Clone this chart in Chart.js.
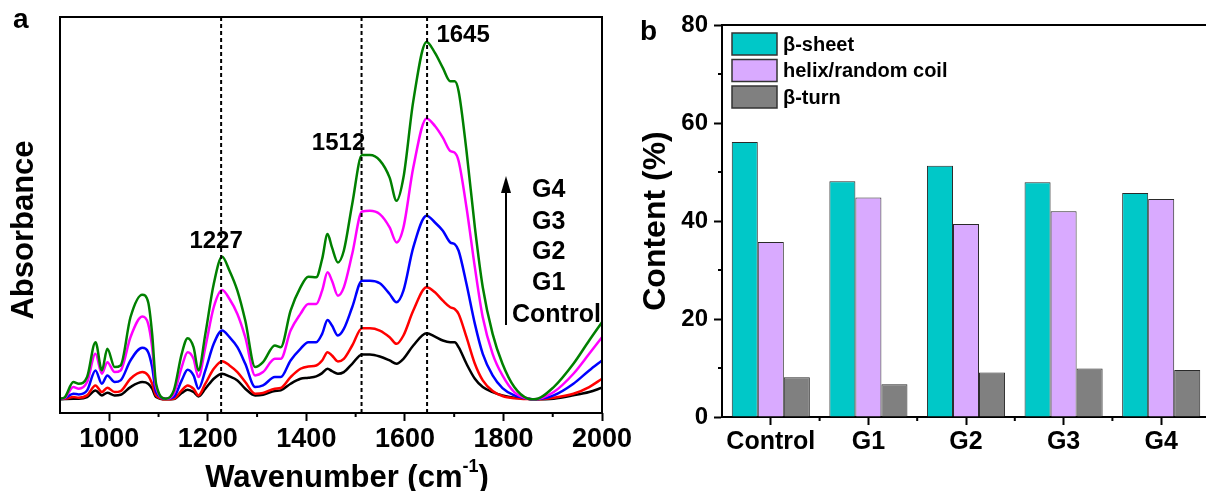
<!DOCTYPE html>
<html>
<head>
<meta charset="utf-8">
<script src="https://cdn.jsdelivr.net/npm/chart.js@4.4.1/dist/chart.umd.min.js"></script>
<style>
  html, body { margin: 0; padding: 0; background: #fff; overflow: hidden; width: 1206px; height: 491px; }
  #wrapA { position: absolute; left: 0; top: 0; width: 640px; height: 491px; }
  #wrapB { position: absolute; left: 600px; top: 0; width: 610px; height: 491px; }
</style>
</head>
<body>
<div id="wrapA"><canvas id="ftir"></canvas></div>
<div id="wrapB"><canvas id="content"></canvas></div>
<script>
// ---- panel a : FTIR spectra (absorbance, arbitrary units) ----
const wavenumbers = [900, 910, 927, 938, 955, 972, 985, 996, 1011, 1023, 1043, 1067, 1079, 1087, 1095,
  1115, 1131, 1147, 1159, 1171, 1181, 1195, 1212, 1229, 1244, 1260, 1276, 1296, 1312, 1336,
  1348, 1368, 1388, 1404, 1420, 1432, 1443, 1452, 1464, 1476, 1493, 1513, 1529, 1549, 1569,
  1583, 1597, 1617, 1644, 1661, 1677, 1692, 1701, 1709, 1725, 1742, 1758, 1778, 1798, 1822,
  1850, 1862, 1902, 1942, 1974, 2000];

const absG4 = [0.043, 0.048, 0.093, 0.088, 0.108, 0.213, 0.128, 0.193, 0.138, 0.143, 0.288, 0.356, 0.333, 0.238, 0.088,
  0.043, 0.068, 0.178, 0.225, 0.198, 0.128, 0.238, 0.388, 0.470, 0.428, 0.368, 0.278, 0.138, 0.153, 0.203,
  0.198, 0.308, 0.378, 0.410, 0.408, 0.463, 0.538, 0.498, 0.453, 0.488, 0.628, 0.776, 0.776, 0.760, 0.708,
  0.638, 0.708, 0.938, 1.116, 1.083, 1.038, 0.998, 0.998, 0.968, 0.788, 0.558, 0.378, 0.238, 0.148, 0.078,
  0.043, 0.041, 0.078, 0.148, 0.218, 0.273];

const absG3 = [0.043, 0.046, 0.078, 0.073, 0.093, 0.178, 0.118, 0.153, 0.123, 0.128, 0.228, 0.290, 0.268, 0.198, 0.078,
  0.043, 0.058, 0.138, 0.183, 0.163, 0.108, 0.198, 0.318, 0.370, 0.343, 0.298, 0.228, 0.113, 0.123, 0.163,
  0.163, 0.248, 0.298, 0.328, 0.328, 0.368, 0.423, 0.398, 0.353, 0.378, 0.478, 0.606, 0.608, 0.598, 0.558,
  0.513, 0.558, 0.738, 0.886, 0.863, 0.828, 0.788, 0.783, 0.758, 0.618, 0.438, 0.288, 0.178, 0.113, 0.063,
  0.043, 0.041, 0.063, 0.118, 0.178, 0.228];

const absG2 = [0.043, 0.045, 0.058, 0.056, 0.068, 0.128, 0.088, 0.113, 0.093, 0.098, 0.158, 0.196, 0.183, 0.138, 0.063,
  0.043, 0.048, 0.098, 0.130, 0.113, 0.073, 0.128, 0.208, 0.248, 0.228, 0.198, 0.148, 0.078, 0.083, 0.108,
  0.108, 0.158, 0.193, 0.213, 0.213, 0.238, 0.280, 0.263, 0.233, 0.253, 0.318, 0.398, 0.398, 0.390, 0.358,
  0.333, 0.368, 0.498, 0.593, 0.573, 0.548, 0.513, 0.508, 0.488, 0.388, 0.268, 0.178, 0.113, 0.075, 0.053,
  0.043, 0.041, 0.053, 0.088, 0.128, 0.158];

const absG1 = [0.043, 0.043, 0.048, 0.046, 0.053, 0.083, 0.063, 0.076, 0.063, 0.066, 0.103, 0.123, 0.113, 0.088, 0.053,
  0.041, 0.043, 0.068, 0.083, 0.073, 0.053, 0.088, 0.133, 0.156, 0.143, 0.123, 0.093, 0.058, 0.060, 0.073,
  0.075, 0.108, 0.133, 0.140, 0.143, 0.158, 0.183, 0.173, 0.155, 0.163, 0.203, 0.255, 0.255, 0.248, 0.228,
  0.208, 0.233, 0.308, 0.378, 0.363, 0.338, 0.318, 0.313, 0.298, 0.228, 0.148, 0.098, 0.066, 0.051, 0.044,
  0.042, 0.041, 0.046, 0.058, 0.078, 0.103];

const absControl = [0.041, 0.042, 0.043, 0.043, 0.048, 0.068, 0.053, 0.061, 0.053, 0.055, 0.078, 0.093, 0.088, 0.073, 0.048,
  0.041, 0.042, 0.060, 0.070, 0.063, 0.050, 0.073, 0.103, 0.118, 0.110, 0.098, 0.073, 0.053, 0.055, 0.066,
  0.068, 0.088, 0.103, 0.106, 0.110, 0.120, 0.133, 0.126, 0.118, 0.123, 0.148, 0.176, 0.176, 0.170, 0.158,
  0.148, 0.163, 0.203, 0.240, 0.230, 0.218, 0.213, 0.213, 0.198, 0.148, 0.103, 0.078, 0.063, 0.053, 0.046,
  0.043, 0.041, 0.043, 0.053, 0.063, 0.076];

const xTickValues = [1000, 1200, 1400, 1600, 1800, 2000];
const xMinorTicks = [1100, 1300, 1500, 1700, 1900];
const peakMarks = [1227, 1512, 1645];

// ---- panel b : secondary structure content (%) ----
const groups = ['Control', 'G1', 'G2', 'G3', 'G4'];
const betaSheet = [56.1, 48.1, 51.3, 47.9, 45.7];
const helixCoil = [35.7, 44.8, 39.4, 42.0, 44.5];
const betaTurn = [8.1, 6.7, 9.1, 9.9, 9.6];
const yTickValues = [0, 20, 40, 60, 80];
const yMinorTicks = [10, 30, 50, 70];

const FONT = "'Liberation Sans', Arial, Helvetica, sans-serif";
Chart.defaults.font.family = FONT;
Chart.defaults.color = '#000';
Chart.defaults.animation = false;

const bold = (size) => 'bold ' + size + 'px ' + FONT;

// decorations for panel a: frame, minor ticks, peak markers, arrow, titles
const ftirDecor = {
  id: 'ftirDecor',
  afterDraw(chart) {
    const { ctx, chartArea: a, scales: { x } } = chart;
    ctx.save();
    ctx.strokeStyle = '#000';
    ctx.fillStyle = '#000';
    ctx.lineWidth = 2;
    ctx.strokeRect(a.left, a.top, a.right - a.left, a.bottom - a.top);

    ctx.beginPath();
    xMinorTicks.forEach(v => {
      const px = x.getPixelForValue(v);
      ctx.moveTo(px, a.bottom);
      ctx.lineTo(px, a.bottom + 4);
    });
    ctx.stroke();

    // dashed peak markers
    ctx.setLineDash([4, 3]);
    ctx.lineWidth = 2;
    peakMarks.forEach(v => {
      const px = x.getPixelForValue(v);
      ctx.beginPath();
      ctx.moveTo(px, a.top);
      ctx.lineTo(px, a.bottom);
      ctx.stroke();
    });
    ctx.setLineDash([]);

    ctx.font = bold(24);
    ctx.textAlign = 'center';
    ctx.textBaseline = 'middle';
    const labelPos = [[-5, 241], [-23, 143], [36, 35]];
    peakMarks.forEach((v, i) => {
      ctx.fillText(String(v), x.getPixelForValue(v) + labelPos[i][0], labelPos[i][1]);
    });

    // arrow
    ctx.beginPath();
    ctx.moveTo(506, 325);
    ctx.lineTo(506, 190);
    ctx.stroke();
    ctx.beginPath();
    ctx.moveTo(506, 176);
    ctx.lineTo(501, 193);
    ctx.lineTo(511, 193);
    ctx.closePath();
    ctx.fill();

    ctx.font = bold(25);
    ctx.textAlign = 'left';
    const gy = [315, 283, 252, 222, 190];
    groups.forEach((g, i) => {
      ctx.fillText(g, i === 0 ? 512 : 532, gy[i]);
    });

    // axis titles
    ctx.font = bold(31);
    ctx.textAlign = 'center';
    ctx.save();
    ctx.translate(24, 230);
    ctx.rotate(-Math.PI / 2);
    ctx.fillText('Absorbance', 0, 0);
    ctx.restore();

    const main = 'Wavenumber (cm';
    const sup = '-1';
    const tail = ')';
    ctx.font = bold(31);
    const w1 = ctx.measureText(main).width;
    const w3 = ctx.measureText(tail).width;
    ctx.font = bold(18);
    const w2 = ctx.measureText(sup).width;
    let sx = 347 - (w1 + w2 + w3) / 2;
    ctx.textAlign = 'left';
    ctx.textBaseline = 'alphabetic';
    ctx.font = bold(31);
    ctx.fillText(main, sx, 487);
    ctx.font = bold(18);
    ctx.fillText(sup, sx + w1, 472);
    ctx.font = bold(31);
    ctx.fillText(tail, sx + w1 + w2, 487);

    ctx.font = bold(28);
    ctx.fillText('a', 13, 28);
    ctx.restore();
  }
};

const ftirSeries = [
  { label: 'G4', values: absG4, color: '#008000' },
  { label: 'G3', values: absG3, color: '#FF00FF' },
  { label: 'G2', values: absG2, color: '#0000FF' },
  { label: 'G1', values: absG1, color: '#FF0000' },
  { label: 'Control', values: absControl, color: '#000000' }
];

new Chart(document.getElementById('ftir'), {
  type: 'line',
  data: {
    datasets: ftirSeries.map(s => ({
      label: s.label,
      data: wavenumbers.map((w, i) => ({ x: w, y: s.values[i] })),
      borderColor: s.color,
      borderWidth: 2.5,
      pointRadius: 0,
      fill: false,
      cubicInterpolationMode: 'monotone'
    }))
  },
  options: {
    responsive: true,
    maintainAspectRatio: false,
    layout: { padding: { top: 17, right: 38, bottom: 0, left: 0 } },
    plugins: { legend: { display: false }, tooltip: { enabled: false } },
    scales: {
      x: {
        type: 'linear', min: 900, max: 2000,
        afterBuildTicks: s => { s.ticks = xTickValues.map(v => ({ value: v })); },
        afterFit: s => { s.height = 78; },
        ticks: { font: { size: 27, weight: 'bold' }, color: '#000', padding: 2, maxRotation: 0, autoSkip: false, callback: v => String(v) },
        grid: { display: true, drawOnChartArea: false, drawTicks: true, tickLength: 8, tickWidth: 2, tickColor: '#000' },
        border: { display: false }
      },
      y: {
        min: 0, max: 1.191,
        ticks: { display: false },
        grid: { display: false },
        border: { display: false },
        afterFit: s => { s.width = 60; }
      }
    }
  },
  plugins: [ftirDecor]
});

// decorations for panel b: top frame, minor ticks, legend, panel letter
const contentDecor = {
  id: 'contentDecor',
  afterDraw(chart) {
    const { ctx, chartArea: a, scales: { x, y } } = chart;
    ctx.save();
    ctx.strokeStyle = '#000';
    ctx.fillStyle = '#000';
    ctx.lineWidth = 2;
    ctx.beginPath();
    ctx.moveTo(a.left - 1, a.top);
    ctx.lineTo(a.right + 2, a.top);
    yMinorTicks.forEach(v => {
      const py = y.getPixelForValue(v);
      ctx.moveTo(a.left, py);
      ctx.lineTo(a.left - 4, py);
    });
    for (let i = 0; i < groups.length - 1; i++) {
      const px = (x.getPixelForValue(i) + x.getPixelForValue(i + 1)) / 2;
      ctx.moveTo(px, a.bottom);
      ctx.lineTo(px, a.bottom + 4);
    }
    ctx.stroke();

    // legend
    ctx.font = bold(20);
    ctx.textAlign = 'left';
    ctx.textBaseline = 'middle';
    chart.data.datasets.forEach((d, i) => {
      const bx = a.left + 10, by = a.top + 8 + i * 26.5;
      ctx.fillStyle = d.backgroundColor;
      ctx.fillRect(bx, by, 45, 22);
      ctx.lineWidth = 1.5;
      ctx.strokeStyle = '#333';
      ctx.strokeRect(bx, by, 45, 22);
      ctx.fillStyle = '#000';
      ctx.fillText(d.label, bx + 51, by + 12);
    });

    ctx.font = bold(28);
    ctx.textBaseline = 'alphabetic';
    ctx.fillText('b', 40, 40);
    ctx.restore();
  }
};

const barSeries = [
  { label: 'β-sheet', values: betaSheet, color: '#00C8C8' },
  { label: 'helix/random coil', values: helixCoil, color: '#D9AAFF' },
  { label: 'β-turn', values: betaTurn, color: '#808080' }
];

new Chart(document.getElementById('content'), {
  type: 'bar',
  data: {
    labels: groups,
    datasets: barSeries.map(s => ({
      label: s.label,
      data: s.values,
      backgroundColor: s.color,
      borderColor: '#2a2a2a',
      borderWidth: 1,
      categoryPercentage: 0.8,
      barPercentage: 1.0
    }))
  },
  options: {
    responsive: true,
    maintainAspectRatio: false,
    layout: { padding: { top: 25, right: 0, bottom: 0, left: 0 } },
    plugins: { legend: { display: false }, tooltip: { enabled: false } },
    scales: {
      x: {
        ticks: { font: { size: 25, weight: 'bold' }, color: '#000', padding: 2, maxRotation: 0 },
        grid: { display: true, offset: false, drawOnChartArea: false, tickLength: 8, tickWidth: 2, tickColor: '#000' },
        border: { display: true, width: 2, color: '#000' },
        afterFit: s => { s.height = 74; }
      },
      y: {
        min: 0, max: 80,
        afterBuildTicks: s => { s.ticks = yTickValues.map(v => ({ value: v })); },
        ticks: { font: { size: 24, weight: 'bold' }, color: '#000', padding: 6 },
        grid: { display: true, drawOnChartArea: false, tickLength: 8, tickWidth: 2, tickColor: '#000' },
        border: { display: true, width: 2, color: '#000' },
        title: { display: true, text: 'Content (%)', font: { size: 32, weight: 'bold' }, color: '#000', padding: { top: 37, bottom: 0 } },
        afterFit: s => { s.width = 122; }
      }
    }
  },
  plugins: [contentDecor]
});
</script>
</body>
</html>
